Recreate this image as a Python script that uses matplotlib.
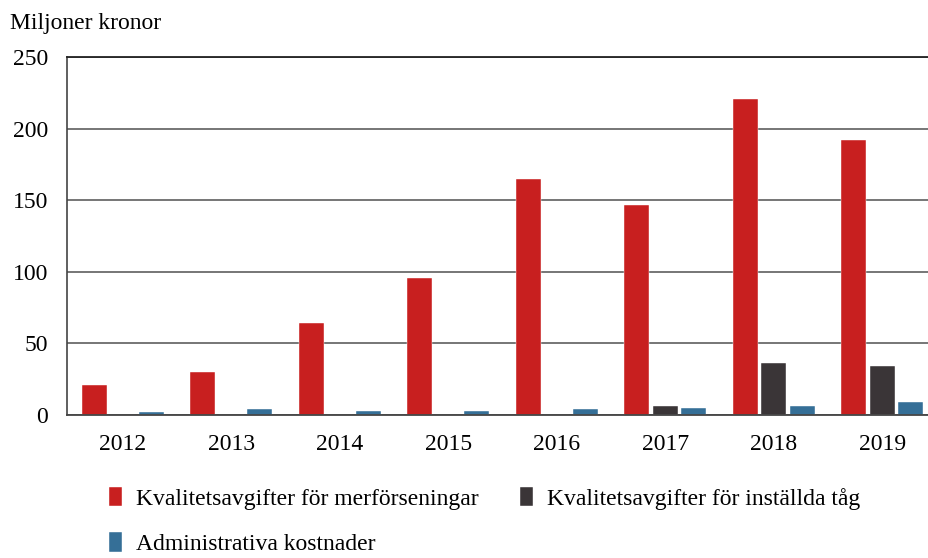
import numpy as np
import matplotlib.pyplot as plt

years = ["2012", "2013", "2014", "2015", "2016", "2017", "2018", "2019"]
merforseningar = [21, 30, 64, 96, 165, 147, 221, 192]
installda = [0, 0, 0, 0, 0, 6, 36.5, 34]
administrativa = [2, 4, 3, 2.5, 4, 5, 6.5, 9]

labels = [
    "Kvalitetsavgifter för merförseningar",
    "Kvalitetsavgifter för inställda tåg",
    "Administrativa kostnader",
]
colors = ["#c81f1f", "#3a3537", "#356f97"]

plt.rcParams["font.family"] = ["Liberation Serif", "DejaVu Serif"]
plt.rcParams["font.size"] = 17

fig = plt.figure(figsize=(9.29, 5.58), dpi=100)
ax = fig.add_axes([0.0725, 0.2563, 0.9275, 0.6407])

x = np.arange(len(years))
step = 0.263
width = 0.232
bars = []
for i, (vals, col) in enumerate(zip([merforseningar, installda, administrativa], colors)):
    b = ax.bar(x + (i - 1) * step, vals, width, color=col, edgecolor="white",
               linewidth=0.3, zorder=3, label=labels[i])
    bars.append(b)

ax.set_ylim(0, 250)
ax.set_xlim(-0.51, 7.43)
ax.set_yticks([0, 50, 100, 150, 200, 250])
ax.set_xticks(x)
ax.set_xticklabels(years)
ax.yaxis.grid(True, color="#6b6b6b", linewidth=1.3, zorder=0)
ax.tick_params(axis="both", length=0)
ax.tick_params(axis="y", pad=14)
ax.tick_params(axis="x", pad=14)

ax.spines["right"].set_visible(False)
ax.spines["top"].set_color("#222222")
ax.spines["top"].set_linewidth(1.3)
ax.spines["left"].set_color("#444444")
ax.spines["left"].set_linewidth(1.2)
ax.spines["bottom"].set_color("#444444")
ax.spines["bottom"].set_linewidth(1.3)
ax.spines["bottom"].set_zorder(4)

fig.text(0.011, 0.958, "Miljoner kronor", ha="left", va="center", fontsize=17)

fig.legend([bars[0], bars[2], bars[1]], [labels[0], labels[2], labels[1]],
           ncol=2, loc="upper left", bbox_to_anchor=(0.117, 0.128),
           frameon=False, handlelength=0.55, handleheight=0.9,
           handletextpad=0.6, columnspacing=1.75, labelspacing=0.95,
           borderaxespad=0, borderpad=0, fontsize=17)

plt.savefig("out.png", dpi=100)
